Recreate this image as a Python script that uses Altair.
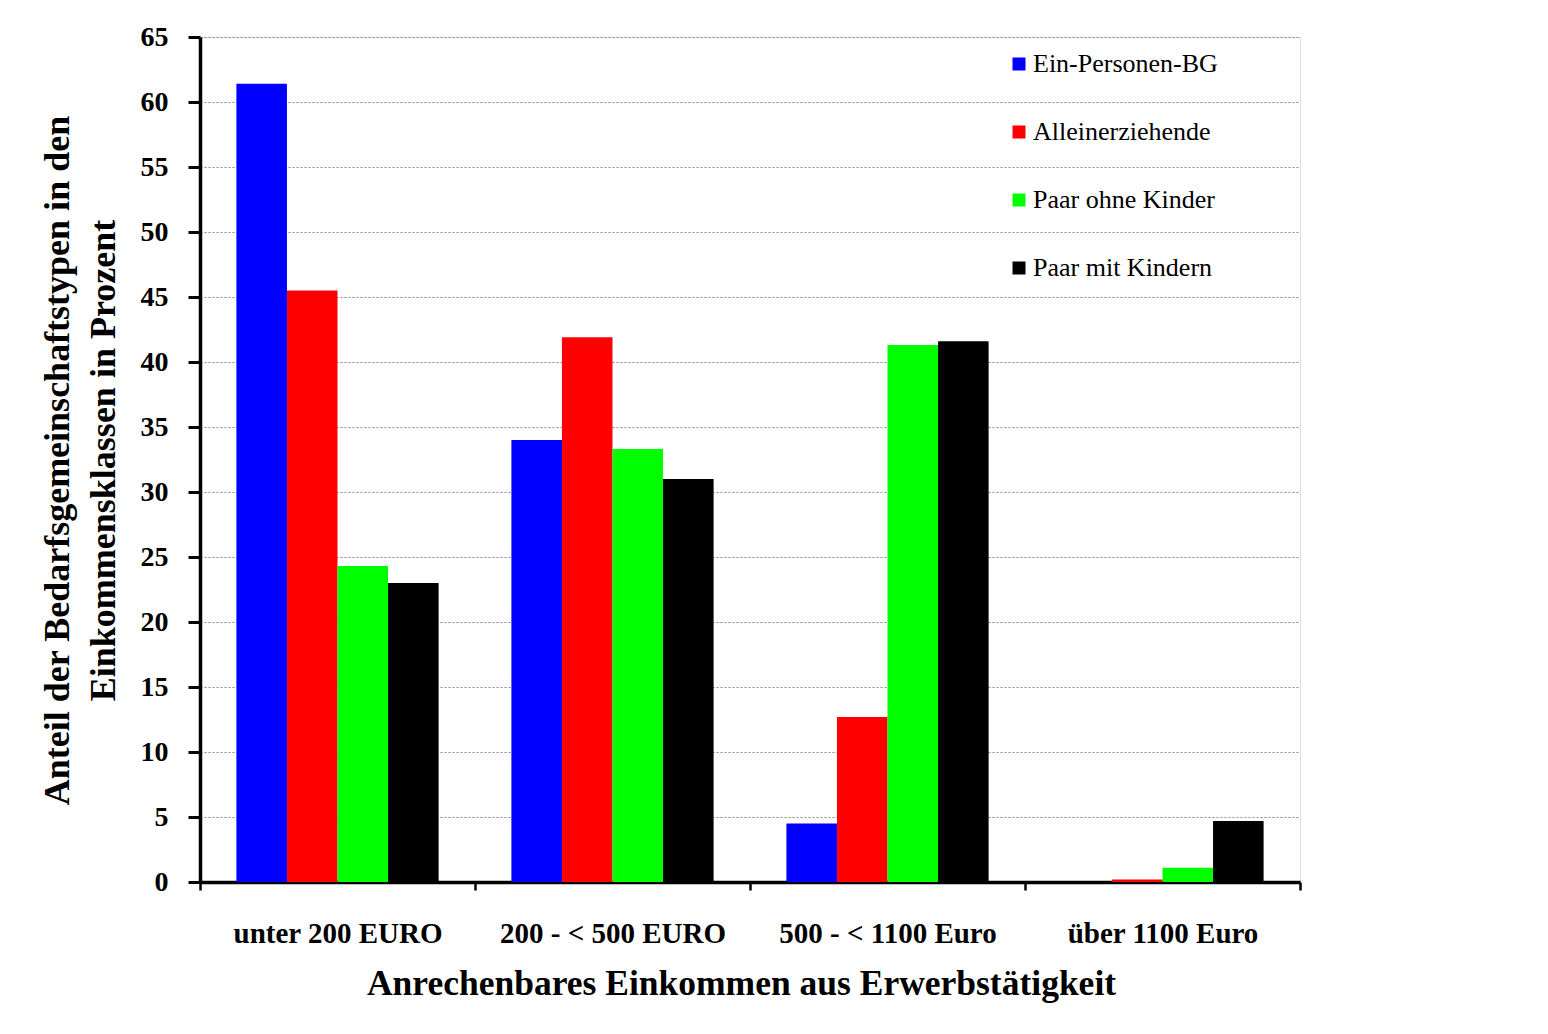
import altair as alt
import pandas as pd

categories = ["unter 200 EURO", "200 - < 500 EURO", "500 - < 1100 Euro", "über 1100 Euro"]
series = ["Ein-Personen-BG", "Alleinerziehende", "Paar ohne Kinder", "Paar mit Kindern"]
colors = ["#0000ff", "#ff0000", "#00ff00", "#000000"]

ein_personen = [61.4, 34.0, 4.5, 0.0]
alleinerziehende = [45.5, 41.9, 12.7, 0.2]
paar_ohne_kinder = [24.3, 33.3, 41.3, 1.1]
paar_mit_kindern = [23.0, 31.0, 41.6, 4.7]

y_ticks = list(range(0, 70, 5))

values = [ein_personen, alleinerziehende, paar_ohne_kinder, paar_mit_kindern]
rows = []
for s, vals in zip(series, values):
    for c, v in zip(categories, vals):
        rows.append({"Kategorie": c, "Typ": s, "Wert": v})
df = pd.DataFrame(rows)

FONT = "Liberation Serif"

chart = alt.Chart(df).mark_bar(strokeWidth=0).encode(
    x=alt.X(
        "Kategorie:N",
        sort=categories,
        scale=alt.Scale(paddingInner=0, paddingOuter=0),
        axis=alt.Axis(
            title="Anrechenbares Einkommen aus Erwerbstätigkeit",
            titleFont=FONT, titleFontSize=35.5, titleFontWeight="bold", titleColor="black",
            titleX=541, titleY=101, titleBaseline="middle", titleAlign="center",
            labelFont=FONT, labelFontSize=29, labelFontWeight="bold", labelColor="black",
            labelAngle=0, labelPadding=29, labelLimit=0,
            tickBand="extent", tickSize=8, tickWidth=2.5, tickColor="black",
            domainColor="black", domainWidth=3.5, grid=False,
        ),
    ),
    xOffset=alt.XOffset("Typ:N", sort=series, scale=alt.Scale(paddingOuter=0.72, paddingInner=0)),
    y=alt.Y(
        "Wert:Q",
        scale=alt.Scale(domain=[0, 65], nice=False),
        axis=alt.Axis(
            values=y_ticks,
            title=["Anteil der Bedarfsgemeinschaftstypen  in den", "Einkommensklassen in Prozent"],
            titleFont=FONT, titleFontSize=36, titleFontWeight="bold", titleColor="black",
            titleLineHeight=46, titleX=-143, titleY=423, titleAngle=270,
            titleAlign="center", titleBaseline="middle",
            labelFont=FONT, labelFontSize=28, labelFontWeight="bold", labelColor="black",
            labelPadding=20,
            tickSize=12, tickWidth=3, tickColor="black",
            domainColor="black", domainWidth=3.5,
            grid=True, gridColor="#8a8a8a", gridDash=[2, 2], gridWidth=1,
        ),
    ),
    color=alt.Color(
        "Typ:N",
        sort=series,
        scale=alt.Scale(domain=series, range=colors),
        legend=alt.Legend(
            title=None, orient="none", legendX=806, legendY=14,
            symbolType="square", symbolSize=169, symbolStrokeWidth=0,
            labelFont=FONT, labelFontSize=26, labelColor="black", labelOffset=1,
            labelLimit=0, rowPadding=42,
        ),
    ),
).properties(
    width=1100,
    height=845,
    padding={"left": 192, "top": 29, "right": 240, "bottom": 144},
    autosize=alt.AutoSizeParams(type="none"),
).configure_view(stroke=None).configure(background="white")

chart.save("out.html", embed_options={"renderer": "svg", "actions": False})
